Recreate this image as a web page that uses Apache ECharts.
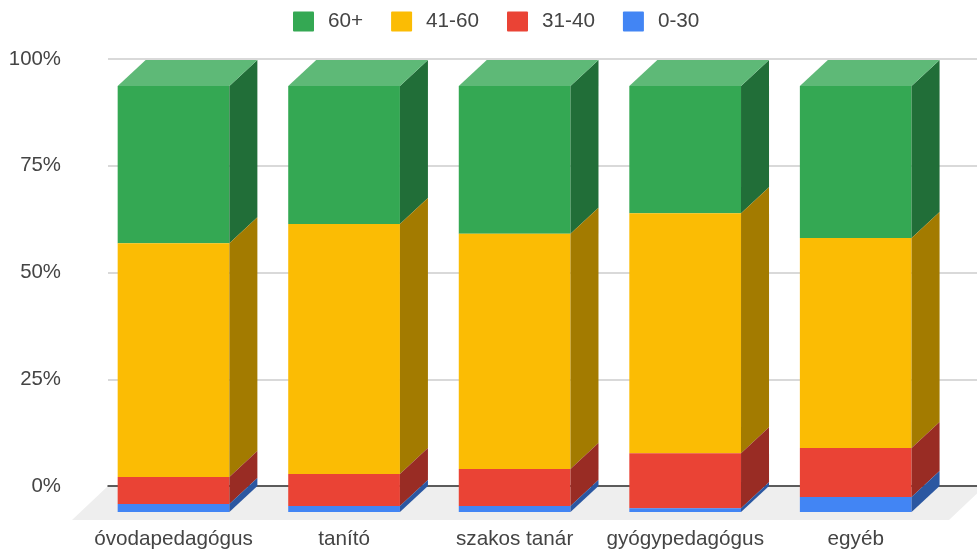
<!DOCTYPE html>
<html><head><meta charset="utf-8">
<script src="https://cdn.jsdelivr.net/npm/echarts@6/dist/echarts.min.js"></script>
<style>html,body{margin:0;padding:0;background:#fff}#c{width:977px;height:552px}</style>
</head><body><div id="c"></div>
<script>
const categories = ['óvodapedagógus','tanító','szakos tanár','gyógypedagógus','egyéb'];
const seriesNames = ['60+','41-60','31-40','0-30'];
const age60plus = [36.9,32.4,34.7,29.9,35.7];
const age41to60 = [54.9,58.7,55.2,56.3,49.3];
const age31to40 = [6.3,7.5,8.7,12.9,11.5];
const age0to30  = [1.9,1.4,1.4,0.9,3.5];
const yTicks = [0,25,50,75,100];

const colors = {
  '60+':  {front:'#34a853',side:'#216e38',top:'#5eb977'},
  '41-60':{front:'#fbbc04',side:'#a37b00',top:'#fccd4f'},
  '31-40':{front:'#ea4335',side:'#992c24',top:'#ef7067'},
  '0-30': {front:'#4285f4',side:'#2b57a1',top:'#71a4f7'}
};
const DX = 28, DY = -26;
const font = '"Liberation Sans", Arial, sans-serif';
const textColor = '#444444';

function stackData(values, below){
  return values.map((v,i)=>{
    const base = below.reduce((s,arr)=>s+arr[i],0);
    return [i, base, base+v];
  });
}
function barRender(name, showTop){
  const c = colors[name];
  return function(params, api){
    const i = api.value(0);
    const p0 = api.coord([i, api.value(1)]);
    const p1 = api.coord([i, api.value(2)]);
    const bw = api.size([1,0])[0] * 0.655;
    const l = p0[0]-bw/2, r = p0[0]+bw/2, yb = p0[1], yt = p1[1];
    const kids = [
      {type:'polygon',shape:{points:[[l,yb],[r,yb],[r,yt],[l,yt]]},style:{fill:c.front}},
      {type:'polygon',shape:{points:[[r,yb],[r+DX,yb+DY],[r+DX,yt+DY],[r,yt]]},style:{fill:c.side}}
    ];
    if(showTop) kids.push({type:'polygon',shape:{points:[[l,yt],[r,yt],[r+DX,yt+DY],[l+DX,yt+DY]]},style:{fill:c.top}});
    return {type:'group',children:kids};
  };
}
const stacks = {
  '0-30': stackData(age0to30,[]),
  '31-40': stackData(age31to40,[age0to30]),
  '41-60': stackData(age41to60,[age0to30,age31to40]),
  '60+': stackData(age60plus,[age0to30,age31to40,age41to60])
};
const ageSeries = seriesNames.map(n=>({
  name:n,type:'custom',xAxisIndex:1,yAxisIndex:1,coordinateSystem:'cartesian2d',
  renderItem:barRender(n,n==='60+'),
  data:stacks[n],encode:{x:0,y:[1,2]},itemStyle:{color:colors[n].front},clip:false,z:3
}));
const floorSeries = {
  type:'custom',xAxisIndex:0,yAxisIndex:0,silent:true,z:-1,clip:false,
  data:[[0,0,1]],
  renderItem(params,api){
    const a = api.coord([api.value(0),api.value(1)]);
    const b = api.coord([api.value(2),api.value(1)]);
    return {type:'polygon',shape:{points:[[a[0],a[1]],[b[0]+8,b[1]],[b[0]-28,b[1]+34],[a[0]-36,a[1]+34]]},style:{fill:'#eeeeee'}};
  }
};
const chart = echarts.init(document.getElementById('c'));
chart.setOption({
  animation:false,
  backgroundColor:'#ffffff',
  legend:{
    data:seriesNames,left:293,top:11,padding:0,itemWidth:21,itemHeight:20,itemGap:28,
    icon:'path://M1,0H20A1,1 0 0 1 21,1V19A1,1 0 0 1 20,20H1A1,1 0 0 1 0,19V1A1,1 0 0 1 1,0Z',
    textStyle:{fontFamily:font,fontSize:20.7,color:textColor,padding:[0,0,0,9]}
  },
  grid:[
    {left:108,right:0,top:59,bottom:66},
    {left:88.25,right:36,top:86,bottom:40}
  ],
  xAxis:[
    {gridIndex:0,type:'value',min:0,max:1,show:true,axisLabel:{show:false},axisTick:{show:false},splitLine:{show:false},
     axisLine:{show:true,onZero:true,lineStyle:{color:'#333333',width:1.5}}},
    {gridIndex:1,type:'category',data:categories,boundaryGap:true,axisLine:{show:false},axisTick:{show:false},
     axisLabel:{interval:0,margin:17,fontFamily:font,fontSize:20.7,color:textColor}}
  ],
  yAxis:[
    {gridIndex:0,type:'value',min:yTicks[0],max:yTicks[yTicks.length-1],interval:yTicks[1]-yTicks[0],
     axisLine:{show:false},axisTick:{show:false},
     axisLabel:{margin:47,fontFamily:font,fontSize:20.4,color:textColor,formatter:'{value}%'},
     splitLine:{show:true,lineStyle:{color:'#cccccc',width:1.5}}},
    {gridIndex:1,type:'value',min:yTicks[0],max:yTicks[yTicks.length-1],show:false,splitLine:{show:false}}
  ],
  series:[floorSeries,...ageSeries]
});
</script></body></html>
